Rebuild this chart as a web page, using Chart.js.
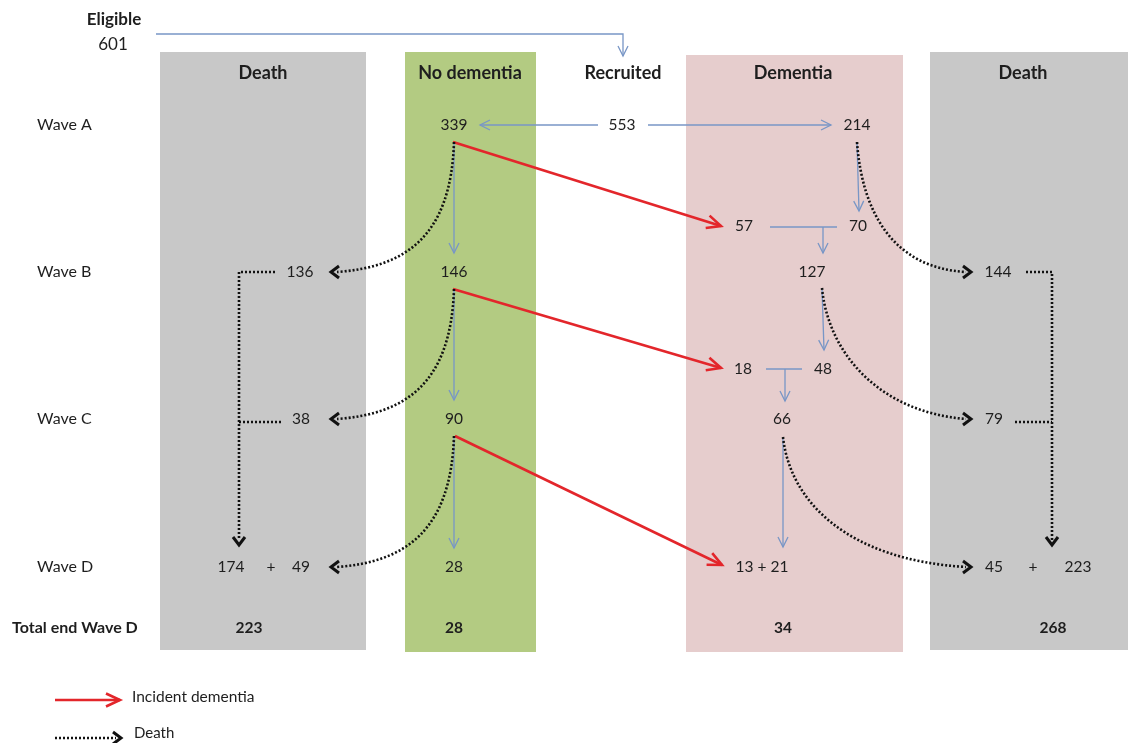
<!DOCTYPE html>
<html><head><meta charset="utf-8">
<script src="https://cdn.jsdelivr.net/npm/chart.js@4/dist/chart.umd.min.js"></script>
<style>html,body{margin:0;padding:0;background:#fff}canvas{display:block}</style>
</head><body>
<canvas id="c" width="1128" height="743"></canvas>
<script>
// ---------------- data ----------------
const eligibleLabel = 'Eligible';
const eligibleCount = 601;
const recruitedCount = 553;
const waveLabels = ['Wave A', 'Wave B', 'Wave C', 'Wave D'];
const totalLabel = 'Total end Wave D';
const columnHeaders = ['Death', 'No dementia', 'Recruited', 'Dementia', 'Death'];
const noDementia = [339, 146, 90, 28];          // waves A..D
const dementiaAtWave = [214, 127, 66];          // waves A..C
const incidentDementia = [57, 18, 13];          // new cases at B, C, D
const dementiaCarried = [70, 48, 21];           // dementia surviving to B, C, D
const deathNoDementia = [136, 38, 49];          // deaths at B, C, D (no dementia)
const deathNoDementiaCarried = 174;
const deathDementia = [144, 79, 45];            // deaths at B, C, D (dementia)
const deathDementiaCarried = 223;
const totalsEndWaveD = [223, 28, 34, 268];
const legendLabels = ['Incident dementia', 'Death'];

// ---------------- layout (scale units) ----------------
const LY = { elig: 20, eligVal: 45, top: 34, header: 73, wave: [125, 272, 419, 567], mid: [226, 369], total: 628 };
const LX = { elig: 114, deathL: 263, noDem: 454, recruit: 623, dem: 793, deathR: 1023, waveLab: 37, totalLab: 12 };
const boxes = [
  { x0: 160, x1: 366, y0: 52, y1: 650, color: '#c8c8c8' },
  { x0: 405, x1: 536, y0: 52, y1: 652, color: '#b3cb82' },
  { x0: 686, x1: 903, y0: 55, y1: 652, color: '#e6cdcd' },
  { x0: 930, x1: 1128, y0: 52, y1: 650, color: '#c8c8c8' }
];
const BLUE = '#7896c6', RED = '#e3262b', BLACK = '#111111', TEXT = '#1e1e1e';
const FONT = 'Lato, "Open Sans", sans-serif';

const flowPlugin = {
  id: 'flow',
  beforeDatasetsDraw(chart) {
    const ctx = chart.ctx, xs = chart.scales.x, ys = chart.scales.y;
    ctx.save();
    boxes.forEach(b => {
      const x0 = xs.getPixelForValue(b.x0), x1 = xs.getPixelForValue(b.x1);
      const y0 = ys.getPixelForValue(b.y0), y1 = ys.getPixelForValue(b.y1);
      ctx.fillStyle = b.color;
      ctx.fillRect(x0, y0, x1 - x0, y1 - y0);
    });
    ctx.restore();
  },
  afterDatasetsDraw(chart) {
    const ctx = chart.ctx, xs = chart.scales.x, ys = chart.scales.y;
    const X = v => xs.getPixelForValue(v), Y = v => ys.getPixelForValue(v);

    function line(pts, color, w, dash) {
      ctx.save();
      ctx.strokeStyle = color; ctx.lineWidth = w; ctx.setLineDash(dash || []);
      ctx.beginPath();
      pts.forEach((p, i) => i ? ctx.lineTo(X(p[0]), Y(p[1])) : ctx.moveTo(X(p[0]), Y(p[1])));
      ctx.stroke(); ctx.restore();
    }
    function head(tip, from, color, w, len, half) {
      const tx = X(tip[0]), ty = Y(tip[1]), fx = X(from[0]), fy = Y(from[1]);
      const a = Math.atan2(ty - fy, tx - fx);
      ctx.save();
      ctx.strokeStyle = color; ctx.lineWidth = w; ctx.setLineDash([]);
      ctx.lineJoin = 'miter'; ctx.lineCap = 'butt';
      ctx.beginPath();
      const c = Math.cos(a), s = Math.sin(a);
      ctx.moveTo(tx - len * c + half * s, ty - len * s - half * c);
      ctx.lineTo(tx, ty);
      ctx.lineTo(tx - len * c - half * s, ty - len * s + half * c);
      ctx.stroke(); ctx.restore();
    }
    function blueArrow(pts) {
      line(pts, BLUE, 1.3);
      head(pts[pts.length - 1], pts[pts.length - 2], BLUE, 1.3, 10, 5);
    }
    function redArrow(a, b) {
      line([a, b], RED, 2.6);
      head(b, a, RED, 2.6, 14, 6.5);
    }
    function dotted(pts) { line(pts, BLACK, 2.6, [2, 2]); }
    function chevron(tip, from) { head(tip, from, BLACK, 3, 8, 6); }
    function curve(p0, c1, c2, p3, tip) {
      ctx.save();
      ctx.strokeStyle = BLACK; ctx.lineWidth = 2.6; ctx.setLineDash([2, 2]);
      ctx.beginPath();
      ctx.moveTo(X(p0[0]), Y(p0[1]));
      ctx.bezierCurveTo(X(c1[0]), Y(c1[1]), X(c2[0]), Y(c2[1]), X(p3[0]), Y(p3[1]));
      ctx.stroke(); ctx.restore();
      chevron(tip, p3);
    }
    function text(str, x, y, opts) {
      opts = opts || {};
      ctx.save();
      ctx.fillStyle = TEXT;
      ctx.font = (opts.bold ? 'bold ' : '') + (opts.size || 15.5) + 'px ' + FONT;
      ctx.textAlign = opts.align || 'center';
      ctx.textBaseline = 'middle';
      ctx.fillText(String(str), X(x), Y(y));
      ctx.restore();
    }

    // --- eligible -> recruited
    blueArrow([[156, LY.top], [LX.recruit, LY.top], [LX.recruit, 56]]);
    // --- recruited -> no dementia / dementia
    blueArrow([[598, LY.wave[0]], [480, LY.wave[0]]]);
    blueArrow([[648, LY.wave[0]], [831, LY.wave[0]]]);
    // --- no dementia column down arrows
    for (let i = 0; i < 3; i++) {
      const y0 = LY.wave[i] + 17, y1 = LY.wave[i + 1] - 19;
      blueArrow([[LX.noDem, y0], [LX.noDem, y1]]);
    }
    // --- dementia column
    blueArrow([[857, 142], [859, 211]]);
    line([[770, LY.mid[0] + 1], [837, LY.mid[0] + 1]], BLUE, 1.3);
    blueArrow([[823, LY.mid[0] + 1], [823, 253]]);
    blueArrow([[822, 288], [824, 350]]);
    line([[766, LY.mid[1]], [802, LY.mid[1]]], BLUE, 1.3);
    blueArrow([[785, LY.mid[1]], [785, 401]]);
    blueArrow([[783, 437], [783, 547]]);

    // --- incident dementia (red)
    redArrow([453, 142], [721, LY.mid[0]]);
    redArrow([453, 289], [721, LY.mid[1] - 1]);
    redArrow([455, 436], [722, LY.wave[3] - 2]);

    // --- deaths from no dementia (curves, left)
    for (let i = 0; i < 3; i++) {
      const y0 = LY.wave[i] + 17, y1 = LY.wave[i + 1];
      curve([LX.noDem, y0], [LX.noDem - 3, y0 + 95], [405, y1 - 5], [337, y1], [331, y1]);
    }
    // --- deaths from dementia (curves, right)
    curve([857, 142], [862, 212], [893, 268], [966, LY.wave[1]], [971, LY.wave[1]]);
    curve([822, 288], [828, 352], [878, 412], [966, LY.wave[2]], [971, LY.wave[2]]);
    curve([783, 437], [790, 502], [848, 560], [966, LY.wave[3]], [971, LY.wave[3]]);

    // --- cumulative death connectors
    dotted([[275, LY.wave[1]], [239, LY.wave[1]], [239, 540]]);
    chevron([239, 545], [239, 500]);
    dotted([[281, 422], [239, 422]]);
    dotted([[1026, LY.wave[1]], [1052, LY.wave[1]], [1052, 540]]);
    chevron([1052, 545], [1052, 500]);
    dotted([[1015, 422], [1052, 422]]);

    // --- texts
    text(eligibleLabel, LX.elig, LY.elig, { bold: true, size: 17 });
    text(eligibleCount, LX.elig - 1, LY.eligVal, { size: 17 });
    const hx = [LX.deathL, 470, LX.recruit, LX.dem, LX.deathR];
    columnHeaders.forEach((h, i) => text(h, hx[i], LY.header, { bold: true, size: 18 }));
    waveLabels.forEach((w, i) => text(w, LX.waveLab, LY.wave[i], { align: 'left', size: 16 }));
    text(totalLabel, LX.totalLab, LY.total, { bold: true, align: 'left', size: 16 });

    noDementia.forEach((v, i) => text(v, LX.noDem, LY.wave[i]));
    text(recruitedCount, 622, LY.wave[0]);
    text(dementiaAtWave[0], 857, LY.wave[0]);
    text(dementiaAtWave[1], 812, LY.wave[1]);
    text(dementiaAtWave[2], 782, LY.wave[2]);
    text(incidentDementia[0], 744, LY.mid[0]);
    text(dementiaCarried[0], 858, LY.mid[0]);
    text(incidentDementia[1], 743, LY.mid[1]);
    text(dementiaCarried[1], 823, LY.mid[1]);
    text(incidentDementia[2] + ' + ' + dementiaCarried[2], 762, LY.wave[3]);

    text(deathNoDementia[0], 300, LY.wave[1]);
    text(deathNoDementia[1], 301, LY.wave[2]);
    text(deathNoDementiaCarried, 231, LY.wave[3]);
    text('+', 271, LY.wave[3]);
    text(deathNoDementia[2], 301, LY.wave[3]);

    text(deathDementia[0], 998, LY.wave[1]);
    text(deathDementia[1], 994, LY.wave[2]);
    text(deathDementia[2], 994, LY.wave[3]);
    text('+', 1033, LY.wave[3]);
    text(deathDementiaCarried, 1078, LY.wave[3]);

    const tx = [249, LX.noDem, 783, 1053];
    totalsEndWaveD.forEach((v, i) => text(v, tx[i], LY.total, { bold: true }));

    // --- legend
    redArrow([55, 700], [120, 700]);
    text(legendLabels[0], 132, 697, { align: 'left', size: 15.5 });
    dotted([[55, 738], [116, 738]]);
    chevron([121, 738], [110, 738]);
    text(legendLabels[1], 134, 733, { align: 'left', size: 15 });
  }
};

new Chart(document.getElementById('c'), {
  type: 'scatter',
  data: { datasets: [{ data: [], pointRadius: 0 }] },
  options: {
    responsive: false, animation: false,
    layout: { padding: 0 },
    scales: {
      x: { type: 'linear', min: 0, max: 1128, display: false },
      y: { type: 'linear', min: 0, max: 743, reverse: true, display: false }
    },
    plugins: { legend: { display: false }, tooltip: { enabled: false } }
  },
  plugins: [flowPlugin]
});
</script>
</body></html>
